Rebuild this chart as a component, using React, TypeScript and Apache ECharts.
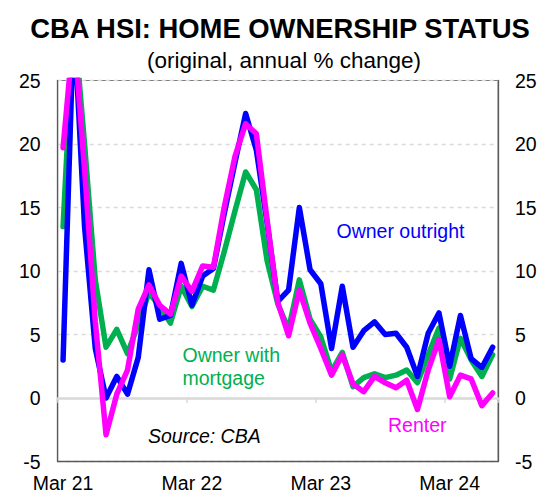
import React, { useEffect, useRef } from 'react';
import * as echarts from 'echarts';

const categories = [
  'Mar 21', 'Apr 21', 'May 21', 'Jun 21', 'Jul 21', 'Aug 21', 'Sep 21', 'Oct 21', 'Nov 21', 'Dec 21',
  'Jan 22', 'Feb 22', 'Mar 22', 'Apr 22', 'May 22', 'Jun 22', 'Jul 22', 'Aug 22', 'Sep 22', 'Oct 22', 'Nov 22', 'Dec 22',
  'Jan 23', 'Feb 23', 'Mar 23', 'Apr 23', 'May 23', 'Jun 23', 'Jul 23', 'Aug 23', 'Sep 23', 'Oct 23', 'Nov 23', 'Dec 23',
  'Jan 24', 'Feb 24', 'Mar 24', 'Apr 24', 'May 24', 'Jun 24', 'Jul 24',
];

const ownerOutright = [3.0, 30, 13.5, 3.9, 0.0, 1.7, 0.3, 3.2, 10.1, 6.2, 6.5, 10.6, 7.3, 9.6, 10.2, 14.5, 18.5, 22.4, 19.5, 13.8, 7.6, 8.5, 15.0, 10.1, 9.0, 3.9, 8.8, 4.0, 5.3, 6.0, 5.0, 5.1, 4.0, 1.7, 5.1, 6.7, 2.5, 6.5, 3.1, 2.4, 4.0];
const ownerMortgage = [13.5, 30, 20, 9.3, 4.0, 5.4, 3.5, 5.8, 8.3, 7.2, 5.9, 8.8, 7.2, 8.8, 8.5, 11.5, 14.7, 17.8, 16.4, 10.8, 7.4, 5.4, 9.3, 6.2, 4.8, 2.1, 3.6, 0.9, 1.6, 1.9, 1.6, 1.8, 2.2, 1.2, 3.4, 5.5, 1.5, 4.7, 3.0, 1.7, 3.4];
const renter = [19.7, 29, 18, 6.0, -2.9, 0.3, 2.2, 7.0, 8.9, 7.3, 6.6, 9.6, 8.4, 10.4, 10.3, 15.0, 19.0, 21.6, 20.8, 14.0, 7.5, 4.9, 8.5, 5.9, 3.9, 1.8, 3.4, 1.1, 0.5, 1.7, 1.2, 0.8, 1.4, -0.9, 2.2, 4.6, 0.1, 1.8, 1.5, -0.6, 0.4];

const Y_MIN = -5;
const Y_MAX = 25;
const Y_STEP = 5;

const FONT = '"Liberation Sans", Arial, sans-serif';
const BLUE = '#0000FF';
const GREEN = '#00B050';
const MAGENTA = '#FF00FF';

function textEl(text: string, x: number, y: number, fill: string, font: string, align: string = 'left') {
  return {
    type: 'text',
    x,
    y,
    z: 100,
    style: {
      text,
      fill,
      font,
      textAlign: align,
      textVerticalAlign: 'middle',
      align,
      verticalAlign: 'middle',
    },
  };
}

export default function App() {
  const ref = useRef<HTMLDivElement>(null);

  useEffect(() => {
    if (!ref.current) return;
    const chart = echarts.init(ref.current, undefined, { renderer: 'svg' });
    const lineSeries = (name: string, data: number[], color: string, z: number) => ({
      name,
      type: 'line',
      data,
      symbol: 'none',
      clip: true,
      z,
      lineStyle: { color, width: 5.5, cap: 'round', join: 'round' },
      itemStyle: { color },
    });
    const yLabel = { fontFamily: FONT, fontSize: 19.5, color: '#000', margin: 17 };
    chart.setOption({
      animation: false,
      backgroundColor: '#fff',
      grid: {
        left: 57.7,
        right: 57,
        top: 80.5,
        bottom: 39.5,
        show: true,
        borderColor: '#7f7f7f',
        borderWidth: 1,
        backgroundColor: 'transparent',
      },
      xAxis: [
        {
          type: 'category',
          data: categories,
          boundaryGap: true,
          position: 'bottom',
          axisLine: { show: true, onZero: false, lineStyle: { color: '#595959', width: 1.3 } },
          axisTick: { show: false },
          axisLabel: { interval: 11, fontFamily: FONT, fontSize: 19.5, color: '#000', margin: 11 },
          splitLine: { show: false },
        },
        {
          type: 'category',
          data: categories,
          boundaryGap: true,
          position: 'top',
          axisLine: { show: true, onZero: true, lineStyle: { color: '#d9d9d9', width: 2.5 } },
          axisTick: { show: true, inside: true, interval: 11, length: 5, lineStyle: { color: '#d9d9d9', width: 1.5 } },
          axisLabel: { show: false },
          splitLine: { show: false },
        },
      ],
      yAxis: [
        {
          type: 'value',
          min: Y_MIN,
          max: Y_MAX,
          interval: Y_STEP,
          position: 'left',
          axisLine: { show: true, lineStyle: { color: '#595959', width: 1.3 } },
          axisTick: { show: false },
          axisLabel: yLabel,
          splitLine: { show: true, lineStyle: { color: '#d9d9d9', width: 1.3, type: [4, 4] } },
        },
        {
          type: 'value',
          min: Y_MIN,
          max: Y_MAX,
          interval: Y_STEP,
          position: 'right',
          axisLine: { show: true, lineStyle: { color: '#595959', width: 1.3 } },
          axisTick: { show: false },
          axisLabel: yLabel,
          splitLine: { show: false },
        },
      ],
      series: [
        lineSeries('Owner with mortgage', ownerMortgage, GREEN, 2),
        lineSeries('Owner outright', ownerOutright, BLUE, 3),
        lineSeries('Renter', renter, MAGENTA, 4),
      ],
      graphic: [
        textEl('CBA HSI: HOME OWNERSHIP STATUS', 280, 28.5, '#000', `bold 27.4px ${FONT}`, 'center'),
        textEl('(original, annual % change)', 284, 60, '#000', `22.5px ${FONT}`, 'center'),
        textEl('Owner outright', 336.5, 231, BLUE, `19.5px ${FONT}`),
        textEl('Owner with', 182.5, 355, GREEN, `19.5px ${FONT}`),
        textEl('mortgage', 182.5, 378, GREEN, `19.5px ${FONT}`),
        textEl('Renter', 388, 425, MAGENTA, `19.5px ${FONT}`),
        textEl('Source: CBA', 148, 436, '#000', `italic 19.5px ${FONT}`),
      ],
    });
    return () => chart.dispose();
  }, []);

  return (
    <div
      ref={ref}
      style={{ position: 'fixed', left: 0, top: 0, width: 555, height: 501 }}
    />
  );
}
